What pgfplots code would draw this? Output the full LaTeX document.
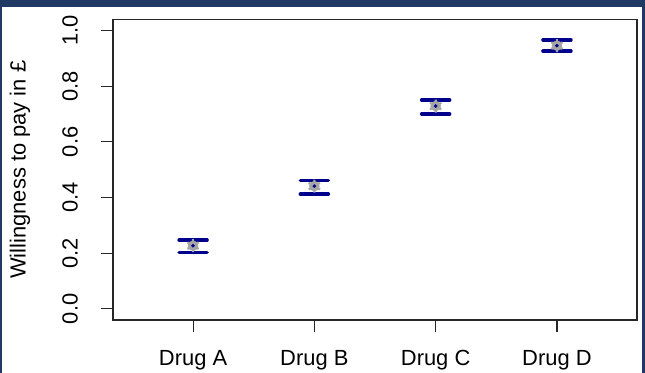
\documentclass[border=0pt]{standalone}
\usepackage{fontspec}
\setmainfont{Liberation Sans}
\usepackage{pgfplots}
\pgfplotsset{compat=1.18}
\definecolor{frame}{RGB}{31,56,100}
\definecolor{barc}{RGB}{0,0,140}
\definecolor{ptc}{RGB}{165,165,165}
\begin{document}
\fontsize{22}{26}\selectfont
\begin{tikzpicture}
\fill[frame] (0,0) rectangle (645bp,373bp);
\fill[white] (2bp,0) rectangle (642bp,366bp);
\begin{axis}[
  at={(113bp,53bp)}, anchor=south west,
  scale only axis, width=524bp, height=300.5bp,
  xmin=0.34, xmax=4.66, ymin=-0.04, ymax=1.04,
  axis line style={line width=1.1bp, black!85},
  xtick={1,2,3,4}, xticklabels={Drug A, Drug B, Drug C, Drug D},
  ytick={0,0.2,0.4,0.6,0.8,1.0}, yticklabels={0.0,0.2,0.4,0.6,0.8,1.0},
  xtick pos=bottom, ytick pos=left, tick align=outside,
  major tick length=12bp,
  tick style={line width=1.1bp, black!85},
  tick label style={font=\fontsize{22}{26}\selectfont},
  xticklabel style={anchor=base, inner sep=0pt, yshift=-33bp},
  yticklabel style={xshift=-23bp, rotate=90, anchor=south, inner sep=0pt},
  ylabel={Willingness to pay in £},
  every axis y label/.style={at={(axis description cs:-0.1775,0.5)}, rotate=90, anchor=center, font=\fontsize{22}{26}\selectfont},
  clip=false,
]
% error caps
\addplot[only marks, mark=-, mark size=14bp, mark options={line width=3.5bp, draw=barc, line cap=round}]
  coordinates {(1,0.247) (2,0.462) (3,0.751) (4,0.967)};
\addplot[only marks, mark=-, mark size=14bp, mark options={line width=3.5bp, draw=barc, line cap=round}]
  coordinates {(1,0.202) (2,0.412) (3,0.701) (4,0.926)};
% means
\addplot[only marks, mark=*, mark size=5bp, mark options={fill=ptc, draw=ptc}]
  coordinates {(1,0.227) (2,0.441) (3,0.729) (4,0.946)};
\addplot[only marks, mark=asterisk, mark size=6.5bp, mark options={draw=ptc, line width=2.2bp}]
  coordinates {(1,0.227) (2,0.441) (3,0.729) (4,0.946)};
\addplot[only marks, mark=*, mark size=1.6bp, mark options={fill=barc, draw=barc}]
  coordinates {(1,0.227) (2,0.441) (3,0.729) (4,0.946)};
\end{axis}
\end{tikzpicture}
\end{document}
